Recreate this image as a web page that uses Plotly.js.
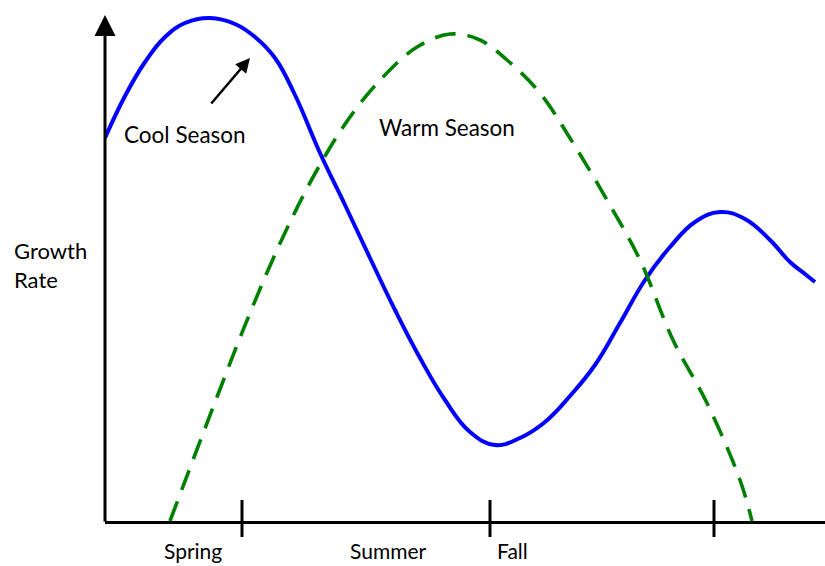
<!DOCTYPE html>
<html>
<head>
<meta charset="utf-8">
<script src="https://cdn.plot.ly/plotly-3.0.1.min.js"></script>
<style>html,body{margin:0;padding:0;background:#fff;}#chart{width:825px;height:566px;}</style>
</head>
<body>
<div id="chart"></div>
<script>
// Time axis (arbitrary units, 0 = start of season axis) and growth rate values
const coolX = [0, 20, 40, 60, 80, 105, 130, 150, 170, 190, 215, 240, 265, 290, 315, 340, 365, 390, 415, 440, 465, 490, 515, 540, 565, 590, 615, 640, 665, 685, 700, 710];
const coolY = [383, 425, 459, 484, 498, 503, 497, 484, 463, 426, 368, 316, 263, 211, 163, 121, 89, 76, 83, 99, 125, 156, 198, 241, 274, 299, 309, 302, 281, 259, 247, 239];
const warmX = [65, 112, 145, 178, 212, 245, 278, 312, 345, 375, 402, 435, 468, 502, 535, 568, 602, 635, 647];
const warmY = [0, 124, 208, 284, 351, 404, 444, 474, 487, 481, 461, 428, 378, 321, 261, 181, 118, 41, 0];
const seasonTicks = [137, 385, 609];
const seasonLabels = ["Spring", "Summer", "Fall"];
const seasonLabelX = [88, 283, 407];
const FONT = "Lato, 'Open Sans', sans-serif";
const XR = 720, YR = 506;

const traces = [
  {x: coolX, y: coolY, mode: 'lines', line: {color: '#0000ff', width: 4, shape: 'spline', smoothing: 1.2}, cliponaxis: false, hoverinfo: 'skip'},
  {x: warmX, y: warmY, mode: 'lines', line: {color: '#008000', width: 3.6, dash: '21px,12px', shape: 'spline', smoothing: 1}, cliponaxis: false, hoverinfo: 'skip'}
];

const shapes = seasonTicks.map(t => ({type: 'line', xref: 'x', yref: 'paper', x0: t, x1: t, y0: -16/YR, y1: 21/YR, line: {color: '#000', width: 3}}));

const annotations = [];
seasonLabels.forEach((lab, i) => annotations.push({x: seasonLabelX[i]/XR, y: -29/YR, xref: 'paper', yref: 'paper', xanchor: 'center', yanchor: 'middle', text: lab, showarrow: false, font: {family: FONT, size: 21, color: '#000'}}));
annotations.push({x: -93/XR, y: 256/YR, xref: 'paper', yref: 'paper', text: 'Growth<br>Rate', showarrow: false, xanchor: 'left', yanchor: 'middle', align: 'left', font: {family: FONT, size: 22, color: '#000'}});
annotations.push({x: 80, y: 387, xref: 'x', yref: 'y', text: 'Cool Season', showarrow: false, font: {family: FONT, size: 22.5, color: '#000'}});
annotations.push({x: 342, y: 394, xref: 'x', yref: 'y', text: 'Warm Season', showarrow: false, font: {family: FONT, size: 22.5, color: '#000'}});
// pointer arrow to cool season curve
annotations.push({x: 145, y: 463, ax: 105, ay: 416, xref: 'x', yref: 'y', axref: 'x', ayref: 'y', text: '', showarrow: true, arrowhead: 2, arrowsize: 1.2, arrowwidth: 2.4, arrowcolor: '#000'});
// y axis with arrow
annotations.push({x: 0, y: 506, ax: 0, ay: -2, xref: 'x', yref: 'y', axref: 'x', ayref: 'y', text: '', showarrow: true, arrowhead: 2, arrowsize: 1.4, arrowwidth: 3, arrowcolor: '#000'});

const layout = {
  width: 825, height: 566,
  margin: {l: 105, r: 0, t: 15, b: 45},
  paper_bgcolor: '#fff', plot_bgcolor: '#fff',
  showlegend: false,
  xaxis: {range: [0, XR], showgrid: false, zeroline: false, showline: true, linecolor: '#000', linewidth: 3, showticklabels: false, ticks: '', fixedrange: true},
  yaxis: {range: [0, YR], showgrid: false, zeroline: false, showline: false, showticklabels: false, ticks: '', fixedrange: true},
  shapes: shapes,
  annotations: annotations
};

Plotly.newPlot('chart', traces, layout, {displayModeBar: false, staticPlot: true});
</script>
</body>
</html>
